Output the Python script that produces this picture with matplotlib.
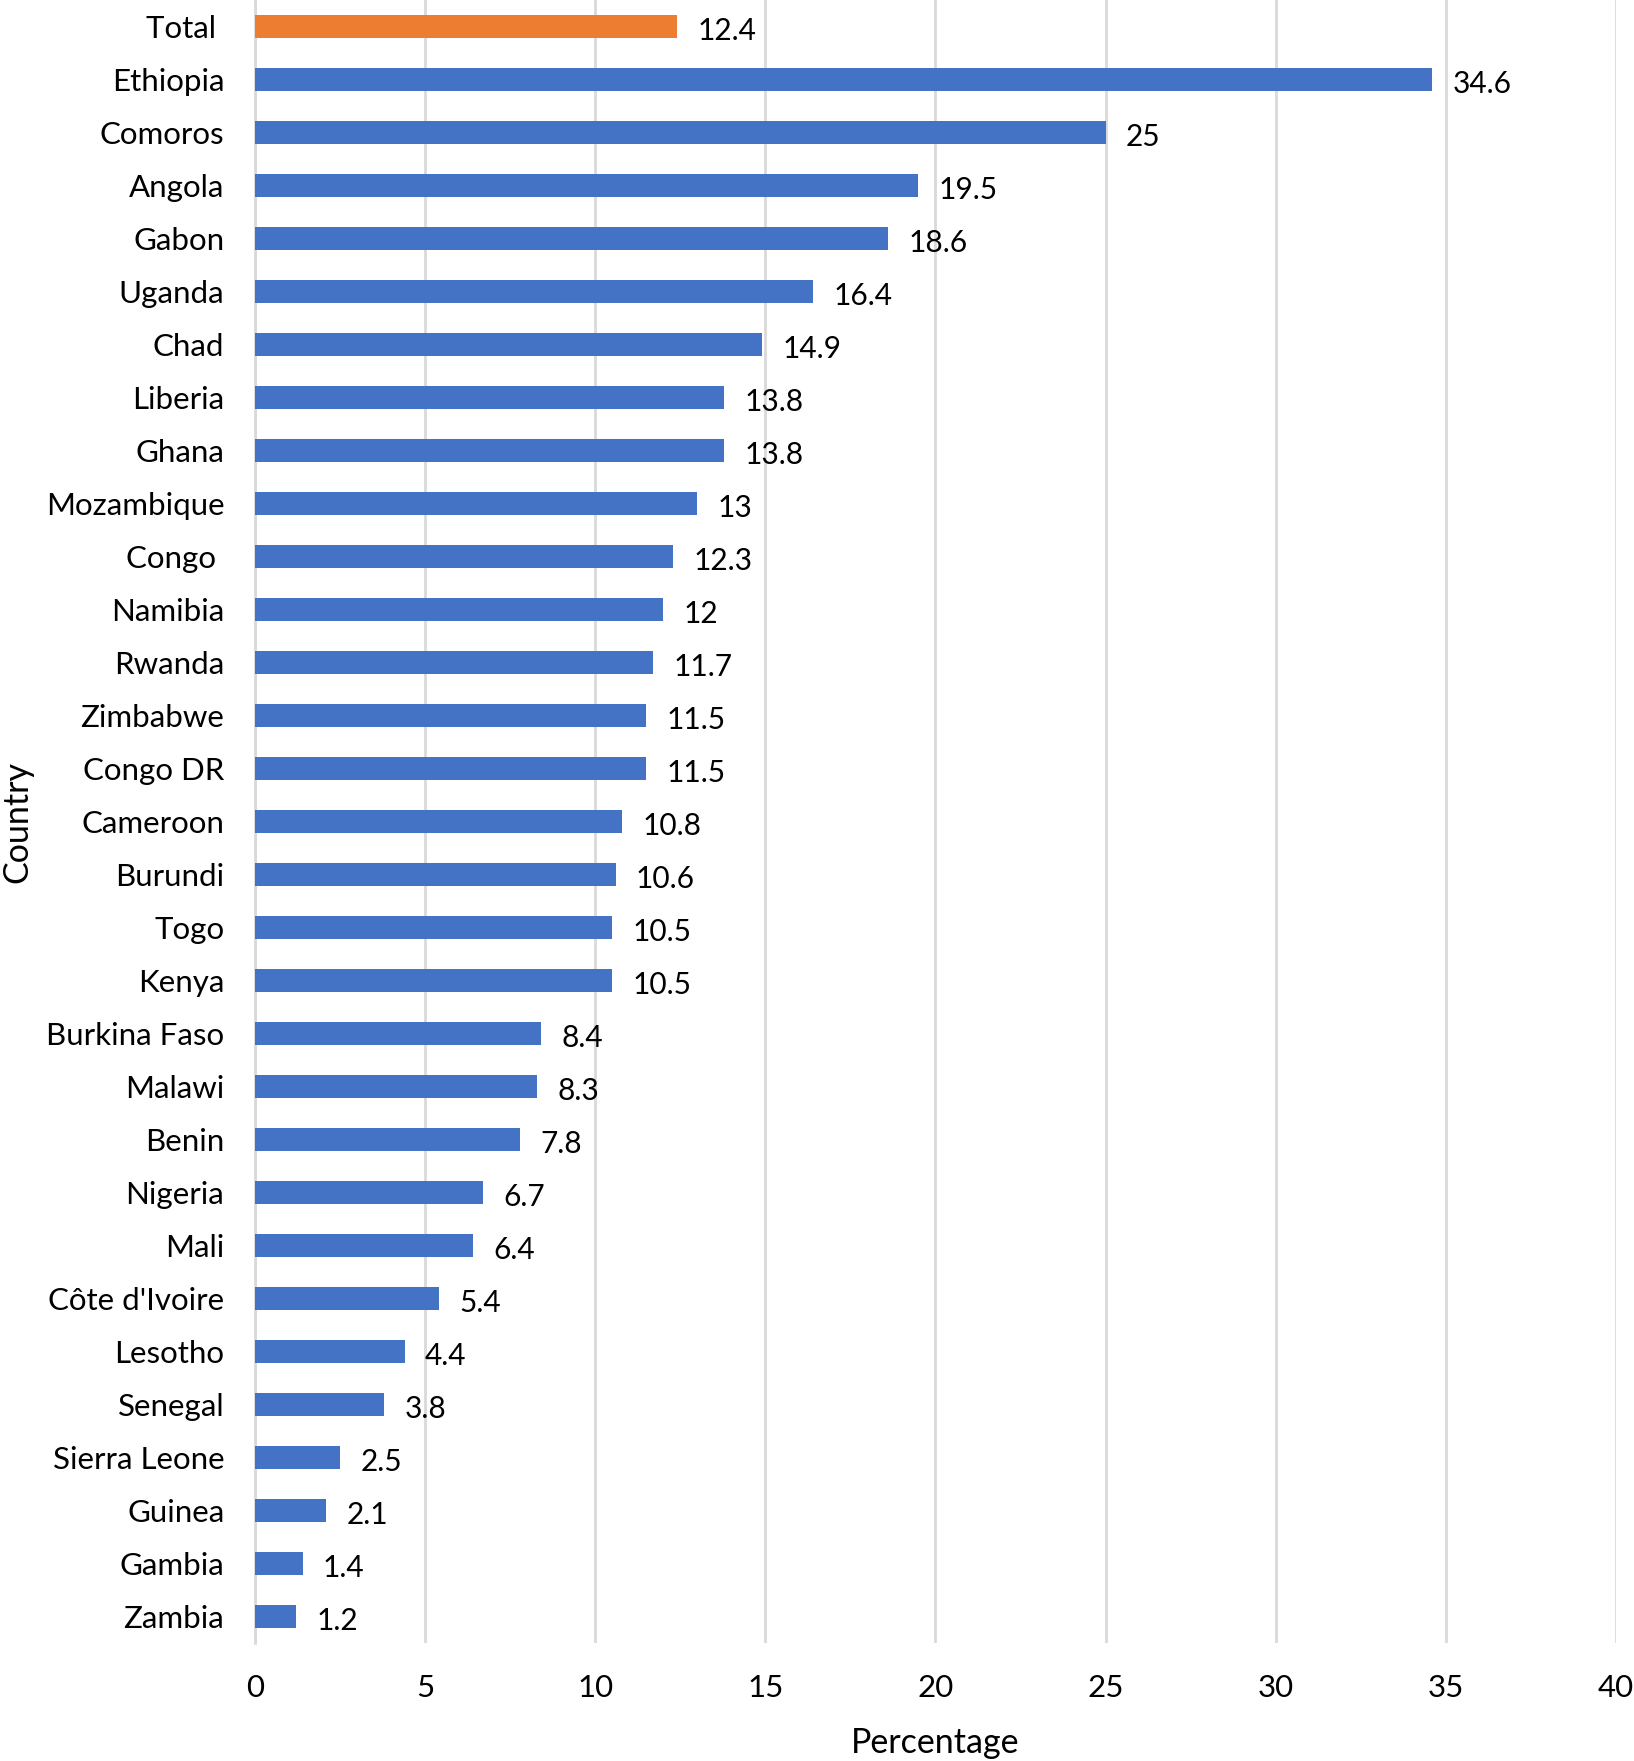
import matplotlib.pyplot as plt
import numpy as np

# Data, top to bottom as in the chart
countries = ["Total ", "Ethiopia", "Comoros", "Angola", "Gabon", "Uganda", "Chad",
             "Liberia", "Ghana", "Mozambique", "Congo ", "Namibia", "Rwanda",
             "Zimbabwe", "Congo DR", "Cameroon", "Burundi", "Togo", "Kenya",
             "Burkina Faso", "Malawi", "Benin", "Nigeria", "Mali", "Côte d'Ivoire",
             "Lesotho", "Senegal", "Sierra Leone", "Guinea", "Gambia", "Zambia"]
values = [12.4, 34.6, 25, 19.5, 18.6, 16.4, 14.9, 13.8, 13.8, 13, 12.3, 12, 11.7,
          11.5, 11.5, 10.8, 10.6, 10.5, 10.5, 8.4, 8.3, 7.8, 6.7, 6.4, 5.4, 4.4,
          3.8, 2.5, 2.1, 1.4, 1.2]
x_ticks = [0, 5, 10, 15, 20, 25, 30, 35, 40]

blue = "#4472C4"
orange = "#ED7D31"

plt.rcParams['font.family'] = ['Lato', 'DejaVu Sans']

fig = plt.figure(figsize=(16.34, 17.61), dpi=100)
ax = fig.add_axes([0.156, 0.067, 0.833, 0.933])

y = np.arange(len(countries))
colors = [orange if c.strip() == "Total" else blue for c in countries]
ax.barh(y, values, height=0.43, color=colors, zorder=3)

for yi, v in zip(y, values):
    ax.text(v + 0.6, yi + 0.08, f"{v:g}", va="center", ha="left", fontsize=21.5)

ax.set_ylim(len(countries) - 0.5, -0.5)
ax.set_xlim(0, 40)
ax.set_yticks(y)
ax.set_yticklabels(countries, fontsize=22.5)
ax.set_xticks(x_ticks)
ax.set_xticklabels([str(t) for t in x_ticks], fontsize=22.5)
ax.tick_params(axis="both", length=0)
ax.tick_params(axis="x", pad=22)
ax.tick_params(axis="y", pad=22)

ax.grid(axis="x", color="#D9D9D9", linewidth=2, zorder=0)
for s in ["top", "right", "bottom"]:
    ax.spines[s].set_visible(False)
ax.spines["left"].set_color("#D9D9D9")
ax.spines["left"].set_linewidth(2)

ax.set_xlabel("Percentage", fontsize=24.5, labelpad=18)
ax.set_ylabel("Country", fontsize=24.5)
ax.yaxis.set_label_coords(-0.163, 0.5)

fig.savefig("out.png", dpi=100)
